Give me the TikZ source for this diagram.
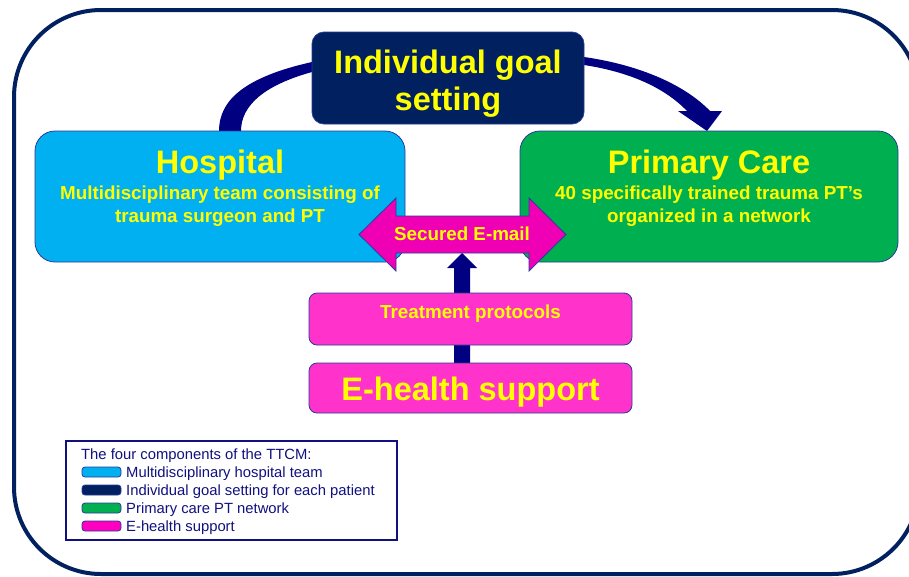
\documentclass[tikz,border=0pt]{standalone}
\usepackage{fontspec}
\setmainfont{Liberation Sans}
\definecolor{navyframe}{HTML}{002060}
\definecolor{arrownavy}{HTML}{000080}
\definecolor{hospblue}{HTML}{00B0F0}
\definecolor{pcgreen}{HTML}{00B050}
\definecolor{ehpink}{HTML}{FF33CC}
\definecolor{mailpink}{HTML}{F000B4}
\definecolor{swpink}{HTML}{FF00C0}
\definecolor{txtyellow}{HTML}{FFFF00}
\definecolor{boxedge}{HTML}{2A3A9A}
\definecolor{legendtext}{HTML}{10107E}
\newcommand\bigtxt{\fontsize{32.5}{37}\selectfont\bfseries}
\newcommand\midtxt{\fontsize{18.8}{22.5}\selectfont\bfseries}
\newcommand\legtxt{\fontsize{14.8}{18}\selectfont}
\begin{document}
\begin{tikzpicture}[x=1pt,y=-1pt,
  box/.style={draw=boxedge, line width=0.8pt, inner sep=0pt},
  ytext/.style={text=txtyellow, inner sep=0pt, anchor=base, align=center},
  swatch/.style={draw=boxedge, line width=0.8pt, rounded corners=3pt, minimum width=39pt, minimum height=10pt, inner sep=0pt},
  legline/.style={text=legendtext, inner sep=0pt, anchor=base west}]
\useasboundingbox (0,0) rectangle (909,576);
\begin{scope}
\clip (0,0) rectangle (909,576);
\draw[navyframe, line width=4pt, rounded corners=87pt] (14,10) rectangle (919,574);
\end{scope}
% curved arrow hospital -> goal -> primary care
\fill[arrownavy] (219,131) .. controls (219,100) and (245,77) .. (312,62) -- (584,57)
  .. controls (640,65) and (685,85) .. (710,111) -- (722,111) -- (707,131) -- (678,111) -- (687,111)
  .. controls (665,88) and (630,72) .. (584,65) -- (312,72)
  .. controls (265,85) and (241,105) .. (241,131) -- cycle;
% vertical arrow
\fill[arrownavy] (454,363) -- (454,268) -- (447,268) -- (462,253) -- (477,268) -- (470,268) -- (470,363) -- cycle;
% boxes
\node[box, fill=navyframe, rounded corners=12pt, minimum width=272pt, minimum height=92pt] (goal) at (448,78) {};
\node[box, fill=hospblue, rounded corners=20pt, minimum width=370pt, minimum height=131pt] (hosp) at (220,196.5) {};
\node[box, fill=pcgreen, rounded corners=20pt, minimum width=378pt, minimum height=131pt] (pc) at (709,196.5) {};
\node[box, fill=ehpink, rounded corners=8pt, minimum width=323pt, minimum height=52pt] (treat) at (470.5,319) {};
\node[box, fill=ehpink, rounded corners=8pt, minimum width=323pt, minimum height=50pt] (ehealth) at (470.5,388) {};
% double arrow
\filldraw[fill=mailpink, draw=boxedge, line width=0.8pt] (359,234.5) -- (396,198) -- (396,216) -- (529,216) -- (529,198) -- (566,234.5)
  -- (529,271) -- (529,253) -- (396,253) -- (396,271) -- cycle;
% texts
\node[ytext, font=\bigtxt] (goalt1) at (448,73) {Individual goal};
\node[ytext, font=\bigtxt] (goalt2) at (448,110) {setting};
\node[ytext, font=\bigtxt] (hospt) at (220,173) {Hospital};
\node[ytext, font=\midtxt] (hosps1) at (220,199) {Multidisciplinary team consisting of};
\node[ytext, font=\midtxt] (hosps2) at (220,222) {trauma surgeon and PT};
\node[ytext, font=\bigtxt] (pct) at (709,173) {Primary Care};
\node[ytext, font=\midtxt] (pcs1) at (709,199) {40 specifically trained trauma PT’s};
\node[ytext, font=\midtxt] (pcs2) at (709,222) {organized in a network};
\node[ytext, font=\midtxt] (mailt) at (462,240) {Secured E-mail};
\node[ytext, font=\midtxt] (treatt) at (470.5,318) {Treatment protocols};
\node[ytext, font=\bigtxt] (eht) at (470.5,400) {E-health support};
% legend
\node[draw=legendtext, line width=1.2pt, minimum width=331pt, minimum height=99pt, inner sep=0pt] (legend) at (231.5,490.5) {};
\node[legline, font=\legtxt] (leg0) at (81,459) {The four components of the TTCM:};
\node[swatch, fill=hospblue] (sw1) at (101.5,472) {};
\node[swatch, fill=navyframe] (sw2) at (101.5,490) {};
\node[swatch, fill=pcgreen] (sw3) at (101.5,508) {};
\node[swatch, fill=swpink] (sw4) at (101.5,526) {};
\node[legline, font=\legtxt] (leg1) at (126,477) {Multidisciplinary hospital team};
\node[legline, font=\legtxt] (leg2) at (126,495) {Individual goal setting for each patient};
\node[legline, font=\legtxt] (leg3) at (126,513) {Primary care PT network};
\node[legline, font=\legtxt] (leg4) at (126,531) {E-health support};
\end{tikzpicture}
\end{document}
